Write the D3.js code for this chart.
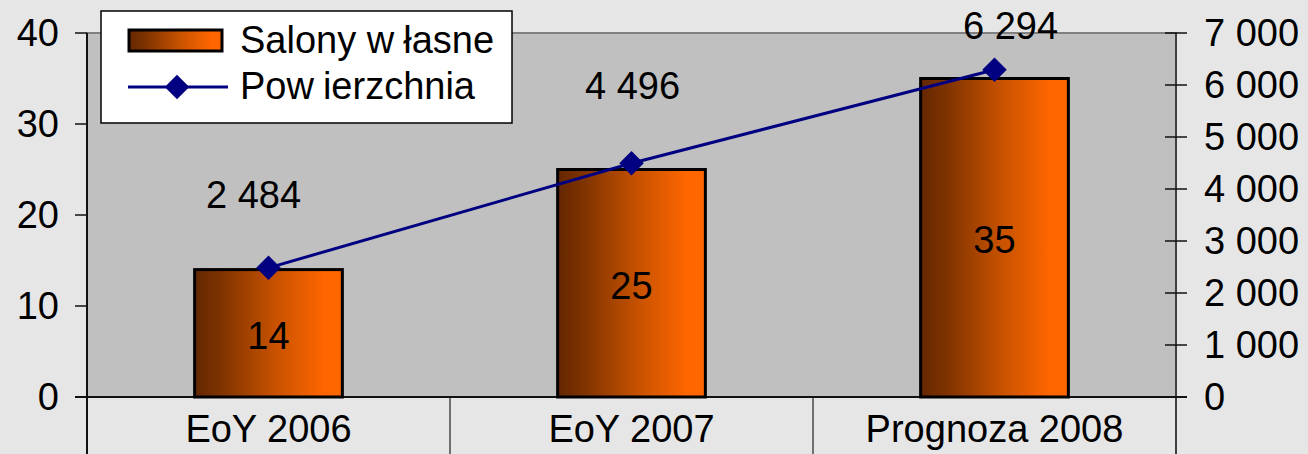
<!DOCTYPE html>
<html>
<head>
<meta charset="utf-8">
<script src="https://cdn.jsdelivr.net/npm/d3@7"></script>
<style>
    html, body { margin: 0; padding: 0; background: #e6e6e6; }
    svg { display: block; font-family: "Liberation Sans", Arial, sans-serif; }
</style>
</head>
<body>
<svg id="chart" width="1308" height="454"></svg>
<script>
// Data
const categories = ['EoY 2006', 'EoY 2007', 'Prognoza 2008'];
const salony = [14, 25, 35];
const powierzchnia = [2484, 4496, 6294];
const leftTicks = [0, 10, 20, 30, 40];
const rightTicks = [0, 1000, 2000, 3000, 4000, 5000, 6000, 7000];
const seriesNames = ['Salony własne', 'Powierzchnia'];

// Hand-placed line labels (offset from the point, px)
const labelShift = [[-15, -73], [1, -78], [16, -44]];

const svg = d3.select('#chart');
const plot = { left: 87, right: 1176, top: 33, bottom: 397 };
const fontSize = 38;

const x = d3.scaleBand()
    .domain(categories)
    .range([plot.left, plot.right]);

const xBar = d3.scaleBand()
    .domain(categories)
    .range([plot.left, plot.right])
    .paddingInner(0.593)
    .paddingOuter(0.2965);

const yLeft = d3.scaleLinear().domain([0, 40]).range([plot.bottom, plot.top]);
const yRight = d3.scaleLinear().domain([0, 7000]).range([plot.bottom, plot.top]);

const fmt = v => d3.format(',')(v).replace(/,/g, ' ');

// Gradient for bars
const defs = svg.append('defs');
const grad = defs.append('linearGradient')
    .attr('id', 'barGrad')
    .attr('x1', '0%').attr('x2', '100%').attr('y1', '0%').attr('y2', '0%');
grad.append('stop').attr('offset', '0%').attr('stop-color', '#642700');
grad.append('stop').attr('offset', '18%').attr('stop-color', '#7f3300');
grad.append('stop').attr('offset', '55%').attr('stop-color', '#c85200');
grad.append('stop').attr('offset', '88%').attr('stop-color', '#ff6600');
grad.append('stop').attr('offset', '100%').attr('stop-color', '#ff6600');

// Plot area
svg.append('rect')
    .attr('x', plot.left)
    .attr('y', plot.top)
    .attr('width', plot.right - plot.left)
    .attr('height', plot.bottom - plot.top)
    .style('fill', '#c0c0c0')
    .style('stroke', '#808080')
    .style('stroke-width', 2);

// Category dividers under the plot
svg.append('g')
    .selectAll('line')
    .data(categories.concat(['end']))
    .join('line')
    .attr('x1', (d, i) => i < categories.length ? x(d) : x(categories[i - 1]) + x.bandwidth())
    .attr('x2', (d, i) => i < categories.length ? x(d) : x(categories[i - 1]) + x.bandwidth())
    .attr('y1', plot.bottom)
    .attr('y2', 454)
    .style('stroke', (d, i) => i === 0 ? '#111' : (i === categories.length ? '#404040' : '#707070'))
    .style('stroke-width', 2);

// Category labels
svg.append('g')
    .selectAll('text')
    .data(categories)
    .join('text')
    .attr('x', d => x(d) + x.bandwidth() / 2)
    .attr('y', 429)
    .attr('dy', '0.35em')
    .attr('text-anchor', 'middle')
    .style('font-size', fontSize + 'px')
    .text(d => d);

// Left axis
const leftAxis = svg.append('g');
leftAxis.append('line')
    .attr('x1', plot.left).attr('x2', plot.left)
    .attr('y1', plot.top).attr('y2', plot.bottom)
    .style('stroke', '#111').style('stroke-width', 2);
leftAxis.selectAll('.tick')
    .data(leftTicks)
    .join('line')
    .attr('x1', plot.left - 12).attr('x2', plot.left)
    .attr('y1', d => yLeft(d)).attr('y2', d => yLeft(d))
    .style('stroke', '#111').style('stroke-width', 1.5);
leftAxis.selectAll('text')
    .data(leftTicks)
    .join('text')
    .attr('x', 59)
    .attr('y', d => yLeft(d))
    .attr('dy', '0.35em')
    .attr('text-anchor', 'end')
    .style('font-size', fontSize + 'px')
    .text(d => d);

// Right axis
const rightAxis = svg.append('g');
rightAxis.append('line')
    .attr('x1', plot.right).attr('x2', plot.right)
    .attr('y1', plot.top).attr('y2', plot.bottom)
    .style('stroke', '#404040').style('stroke-width', 2);
rightAxis.selectAll('.tick')
    .data(rightTicks)
    .join('line')
    .attr('x1', plot.right - 11).attr('x2', plot.right + 11)
    .attr('y1', d => yRight(d)).attr('y2', d => yRight(d))
    .style('stroke', '#111').style('stroke-width', 1.5);
rightAxis.selectAll('text')
    .data(rightTicks)
    .join('text')
    .attr('x', 1204)
    .attr('y', d => yRight(d))
    .attr('dy', '0.35em')
    .style('font-size', fontSize + 'px')
    .text(d => fmt(d));

// Bottom axis line
svg.append('line')
    .attr('x1', plot.left - 12).attr('x2', plot.right + 11)
    .attr('y1', plot.bottom).attr('y2', plot.bottom)
    .style('stroke', '#111').style('stroke-width', 2);

// Bars
svg.append('g')
    .selectAll('rect')
    .data(salony)
    .join('rect')
    .attr('x', (d, i) => xBar(categories[i]))
    .attr('y', d => yLeft(d))
    .attr('width', xBar.bandwidth())
    .attr('height', d => plot.bottom - yLeft(d))
    .style('fill', 'url(#barGrad)')
    .style('stroke', '#000')
    .style('stroke-width', 3);

svg.append('g')
    .selectAll('text')
    .data(salony)
    .join('text')
    .attr('x', (d, i) => xBar(categories[i]) + xBar.bandwidth() / 2)
    .attr('y', d => (yLeft(d) + plot.bottom) / 2 + 2)
    .attr('dy', '0.35em')
    .attr('text-anchor', 'middle')
    .style('font-size', fontSize + 'px')
    .text(d => d);

// Line series
const pts = powierzchnia.map((v, i) => [x(categories[i]) + x.bandwidth() / 2, yRight(v)]);

svg.append('path')
    .datum(pts)
    .attr('d', d3.line())
    .style('fill', 'none')
    .style('stroke', '#000080')
    .style('stroke-width', 3);

const diamond = d3.symbol().type(d3.symbolSquare).size(300);
svg.append('g')
    .selectAll('path')
    .data(pts)
    .join('path')
    .attr('d', diamond)
    .attr('transform', d => `translate(${d[0]}, ${d[1]}) rotate(45)`)
    .style('fill', '#000080');

svg.append('g')
    .selectAll('text')
    .data(powierzchnia)
    .join('text')
    .attr('x', (d, i) => pts[i][0] + labelShift[i][0])
    .attr('y', (d, i) => pts[i][1] + labelShift[i][1])
    .attr('dy', '0.35em')
    .attr('text-anchor', 'middle')
    .style('font-size', fontSize + 'px')
    .text(d => fmt(d));

// Legend
const legend = svg.append('g');
legend.append('rect')
    .attr('x', 101).attr('y', 11)
    .attr('width', 411).attr('height', 112)
    .style('fill', '#fff')
    .style('stroke', '#000')
    .style('stroke-width', 1.5);

legend.append('rect')
    .attr('x', 129).attr('y', 30)
    .attr('width', 93).attr('height', 21)
    .style('fill', 'url(#barGrad)')
    .style('stroke', '#000')
    .style('stroke-width', 3);

legend.append('line')
    .attr('x1', 128).attr('x2', 228)
    .attr('y1', 87).attr('y2', 87)
    .style('stroke', '#000080')
    .style('stroke-width', 3);

legend.append('path')
    .attr('d', diamond)
    .attr('transform', 'translate(177, 87) rotate(45)')
    .style('fill', '#000080');

// The source font leaves a gap after the "w"; reproduce it with a tspan shift
legend.selectAll('text')
    .data(seriesNames)
    .join('text')
    .attr('x', 240)
    .attr('y', (d, i) => i === 0 ? 40 : 86)
    .attr('dy', '0.35em')
    .style('font-size', fontSize + 'px')
    .each(function(d) {
        const k = d.indexOf('w') + 1;
        const t = d3.select(this);
        t.append('tspan').text(d.slice(0, k));
        t.append('tspan').attr('dx', 9).text(d.slice(k));
    });
</script>
</body>
</html>
